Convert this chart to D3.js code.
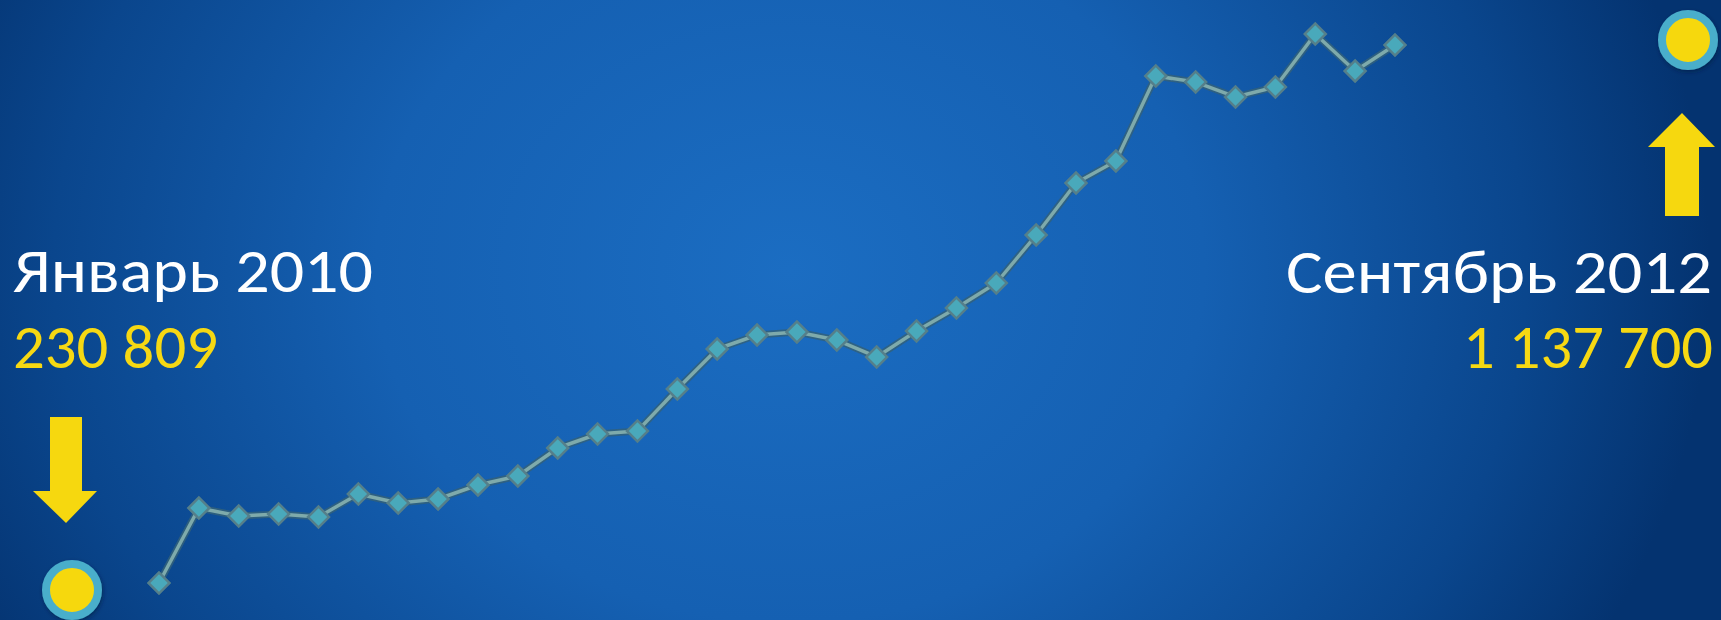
<!DOCTYPE html>
<html>
<head>
<meta charset="utf-8">
<script src="https://cdn.jsdelivr.net/npm/d3@7/dist/d3.min.js"></script>
<style>
html,body{margin:0;padding:0;background:#0a3f80;overflow:hidden;}
svg{display:block;}
</style>
</head>
<body>
<svg id="chart" width="1721" height="620"></svg>
<script>
// Months: January 2010 .. (32 points)
const months = d3.range(32).map(i => i);
const subscribers = [
  230809, 357200, 343700, 347100, 342100, 380800, 365700, 372400,
  396000, 411200, 458400, 482000, 487000, 557800, 625300, 648900,
  653900, 640400, 611800, 655600, 694400, 736500, 817400, 905100,
  942200, 1085400, 1075300, 1050100, 1066900, 1156200, 1093900, 1137700
];
const startLabel = "Январь 2010";
const startValue = "230 809";
const endLabel = "Сентябрь 2012";
const endValue = "1 137 700";

const W = 1721, H = 620;
const svg = d3.select("#chart");
const defs = svg.append("defs");

const bg = defs.append("radialGradient")
  .attr("id", "bg").attr("gradientUnits", "userSpaceOnUse")
  .attr("cx", 790).attr("cy", 270).attr("r", 920)
  .attr("gradientTransform", "translate(790,270) scale(1,0.85) translate(-790,-270)");
bg.append("stop").attr("offset", 0).attr("stop-color", "#1b6dc2");
bg.append("stop").attr("offset", 0.45).attr("stop-color", "#1560b2");
bg.append("stop").attr("offset", 0.8).attr("stop-color", "#0a468d");
bg.append("stop").attr("offset", 1).attr("stop-color", "#043370");
svg.append("rect").attr("width", W).attr("height", H).attr("fill", "url(#bg)");

const shadow = defs.append("filter").attr("id", "sh").attr("x", "-50%").attr("y", "-50%").attr("width", "200%").attr("height", "200%");
shadow.append("feDropShadow").attr("dx", 1).attr("dy", 2).attr("stdDeviation", 2)
  .attr("flood-color", "#001a40").attr("flood-opacity", 0.6);

const blur = defs.append("filter").attr("id", "soft");
blur.append("feGaussianBlur").attr("stdDeviation", 0.7);

const x = d3.scaleLinear().domain([0, months.length - 1]).range([159, 1395]);
const y = d3.scaleLinear().domain([230809, 1137700]).range([583, 45]);

const data = months.map((m, i) => ({ m, v: subscribers[i] }));
const line = d3.line().x(d => x(d.m)).y(d => y(d.v));

const g = svg.append("g").attr("filter", "url(#soft)");
g.append("path").datum(data).attr("d", line)
  .attr("fill", "none").attr("stroke", "#33607a").attr("stroke-width", 7)
  .attr("stroke-linejoin", "round").attr("opacity", 0.85);
g.append("path").datum(data).attr("d", line)
  .attr("fill", "none").attr("stroke", "#7eaaab").attr("stroke-width", 3.5)
  .attr("stroke-linejoin", "round");

g.selectAll("path.pt").data(data).enter().append("path")
  .attr("class", "pt")
  .attr("d", d3.symbol().type(d3.symbolSquare).size(220))
  .attr("transform", d => `translate(${x(d.m)},${y(d.v)}) rotate(45)`)
  .attr("fill", "#4aa9bb").attr("stroke", "#557f8a").attr("stroke-width", 2.5);

// Annotations
const font = "Calibri, Carlito, 'Open Sans', sans-serif";
function label(txt, xx, yy, anchor, color, len) {
  svg.append("text").text(txt)
    .attr("x", xx).attr("y", yy)
    .attr("text-anchor", anchor)
    .attr("font-family", font).attr("font-size", 62)
    .attr("fill", color)
    .attr("textLength", len).attr("lengthAdjust", "spacingAndGlyphs");
}
label(startLabel, 13, 292, "start", "#ffffff", 360);
label(startValue, 13, 368, "start", "#f6d813", 205);
label(endLabel, 1712, 293, "end", "#ffffff", 426);
label(endValue, 1713, 368, "end", "#f6d813", 250);

const yellow = "#f6d80f";
// down arrow (left)
svg.append("path")
  .attr("d", d3.line()([[50,417],[82,417],[82,491],[97,491],[66,523],[33,491],[50,491]]) + "Z")
  .attr("fill", yellow);
// up arrow (right)
svg.append("path")
  .attr("d", d3.line()([[1665,216],[1699,216],[1699,147],[1715,147],[1682,113],[1648,147],[1665,147]]) + "Z")
  .attr("fill", yellow);

// circles
[[72, 590], [1688, 40]].forEach(([cx, cy]) => {
  svg.append("circle").attr("cx", cx).attr("cy", cy).attr("r", 26)
    .attr("fill", yellow).attr("stroke", "#4aaecb").attr("stroke-width", 8)
    .attr("filter", "url(#sh)");
});
</script>
</body>
</html>
